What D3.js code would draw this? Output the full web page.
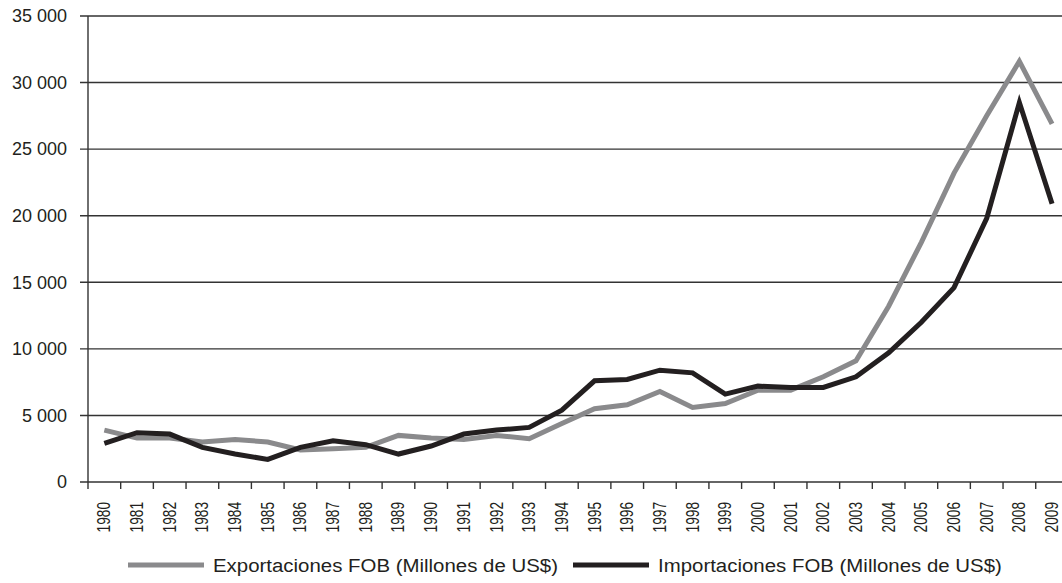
<!DOCTYPE html>
<html>
<head>
<meta charset="utf-8">
<script src="https://cdn.jsdelivr.net/npm/d3@7"></script>
<style>
  body { margin: 0; background: #fff; }
  svg { display: block; }
  text { font-family: "Liberation Sans", Arial, sans-serif; fill: #231f20; }
</style>
</head>
<body>
<svg id="chart"></svg>
<script>
const years = d3.range(1980, 2010);
const exportaciones = [3900, 3300, 3300, 3000, 3200, 3000, 2400, 2500, 2600, 3500,
    3300, 3200, 3500, 3250, 4400, 5500, 5800, 6800, 5600, 5900,
    6900, 6900, 7900, 9100, 13200, 18000, 23200, 27500, 31600, 26900];
const importaciones = [2900, 3700, 3600, 2600, 2100, 1700, 2600, 3100, 2800, 2100,
    2700, 3600, 3900, 4100, 5400, 7600, 7700, 8400, 8200, 6600,
    7200, 7100, 7100, 7900, 9700, 12000, 14600, 19800, 28500, 20900];
const yTicks = [0, 5000, 10000, 15000, 20000, 25000, 30000, 35000];
const seriesNames = ["Exportaciones FOB (Millones de US$)", "Importaciones FOB (Millones de US$)"];

const width = 1062, height = 583;
const margin = {top: 16, left: 88, bottom: 101};

const svg = d3.select("#chart")
    .attr("width", width)
    .attr("height", height);

let x = d3.scaleBand()
    .domain(years)
    .range([margin.left, margin.left + 30 * 32.68])
    .padding(0);

let y = d3.scaleLinear()
    .domain([0, 35000])
    .range([height - margin.bottom, margin.top]);

const fmt = v => d3.format(",")(v).replace(/,/g, " ");

// gridlines
svg.append("g")
    .selectAll("line")
    .data(yTicks)
    .join("line")
    .attr("x1", margin.left - 8)
    .attr("x2", width)
    .attr("y1", d => y(d))
    .attr("y2", d => y(d))
    .attr("stroke", "#333")
    .attr("stroke-width", 1.4);

// y labels
svg.append("g")
    .selectAll("text")
    .data(yTicks)
    .join("text")
    .attr("x", 67)
    .attr("y", d => y(d))
    .attr("dy", "0.35em")
    .attr("text-anchor", "end")
    .style("font-size", "18px")
    .text(fmt);

// y axis line
svg.append("line")
    .attr("x1", margin.left).attr("x2", margin.left)
    .attr("y1", y(35000)).attr("y2", y(0) + 7)
    .attr("stroke", "#333")
    .attr("stroke-width", 1.4);

// x ticks at band boundaries
svg.append("g")
    .selectAll("line")
    .data(years.slice(1).concat([2010]))
    .join("line")
    .attr("x1", d => d === 2010 ? x.range()[1] : x(d))
    .attr("x2", d => d === 2010 ? x.range()[1] : x(d))
    .attr("y1", y(0))
    .attr("y2", y(0) + 7)
    .attr("stroke", "#333")
    .attr("stroke-width", 1.4);

// year labels
svg.append("g")
    .selectAll("text")
    .data(years)
    .join("text")
    .attr("transform", d => `translate(${x(d) + x.bandwidth() / 2 + 6},${y(0) + 20}) rotate(-90) scale(0.72,1)`)
    .attr("text-anchor", "end")
    .style("font-size", "19px")
    .text(d => d);

// lines
const line = d3.line()
    .x((d, i) => x(years[i]) + x.bandwidth() / 2)
    .y(d => y(d));

svg.append("path")
    .datum(exportaciones)
    .attr("fill", "none")
    .attr("stroke", "#8a8a8c")
    .attr("stroke-width", 5)
    .attr("d", line);

svg.append("path")
    .datum(importaciones)
    .attr("fill", "none")
    .attr("stroke", "#231f20")
    .attr("stroke-width", 5)
    .attr("d", line);

// legend
const legend = [
    {name: seriesNames[0], color: "#8a8a8c", x0: 128},
    {name: seriesNames[1], color: "#231f20", x0: 573}
];
const lg = svg.append("g")
    .selectAll("g")
    .data(legend)
    .join("g")
    .attr("transform", d => `translate(${d.x0},565)`);

lg.append("line")
    .attr("x1", 0).attr("x2", 76)
    .attr("stroke", d => d.color)
    .attr("stroke-width", 5);

lg.append("text")
    .attr("dy", "0.35em")
    .attr("transform", "translate(85,0) scale(1.075,1)")
    .style("font-size", "19px")
    .text(d => d.name);
</script>
</body>
</html>
